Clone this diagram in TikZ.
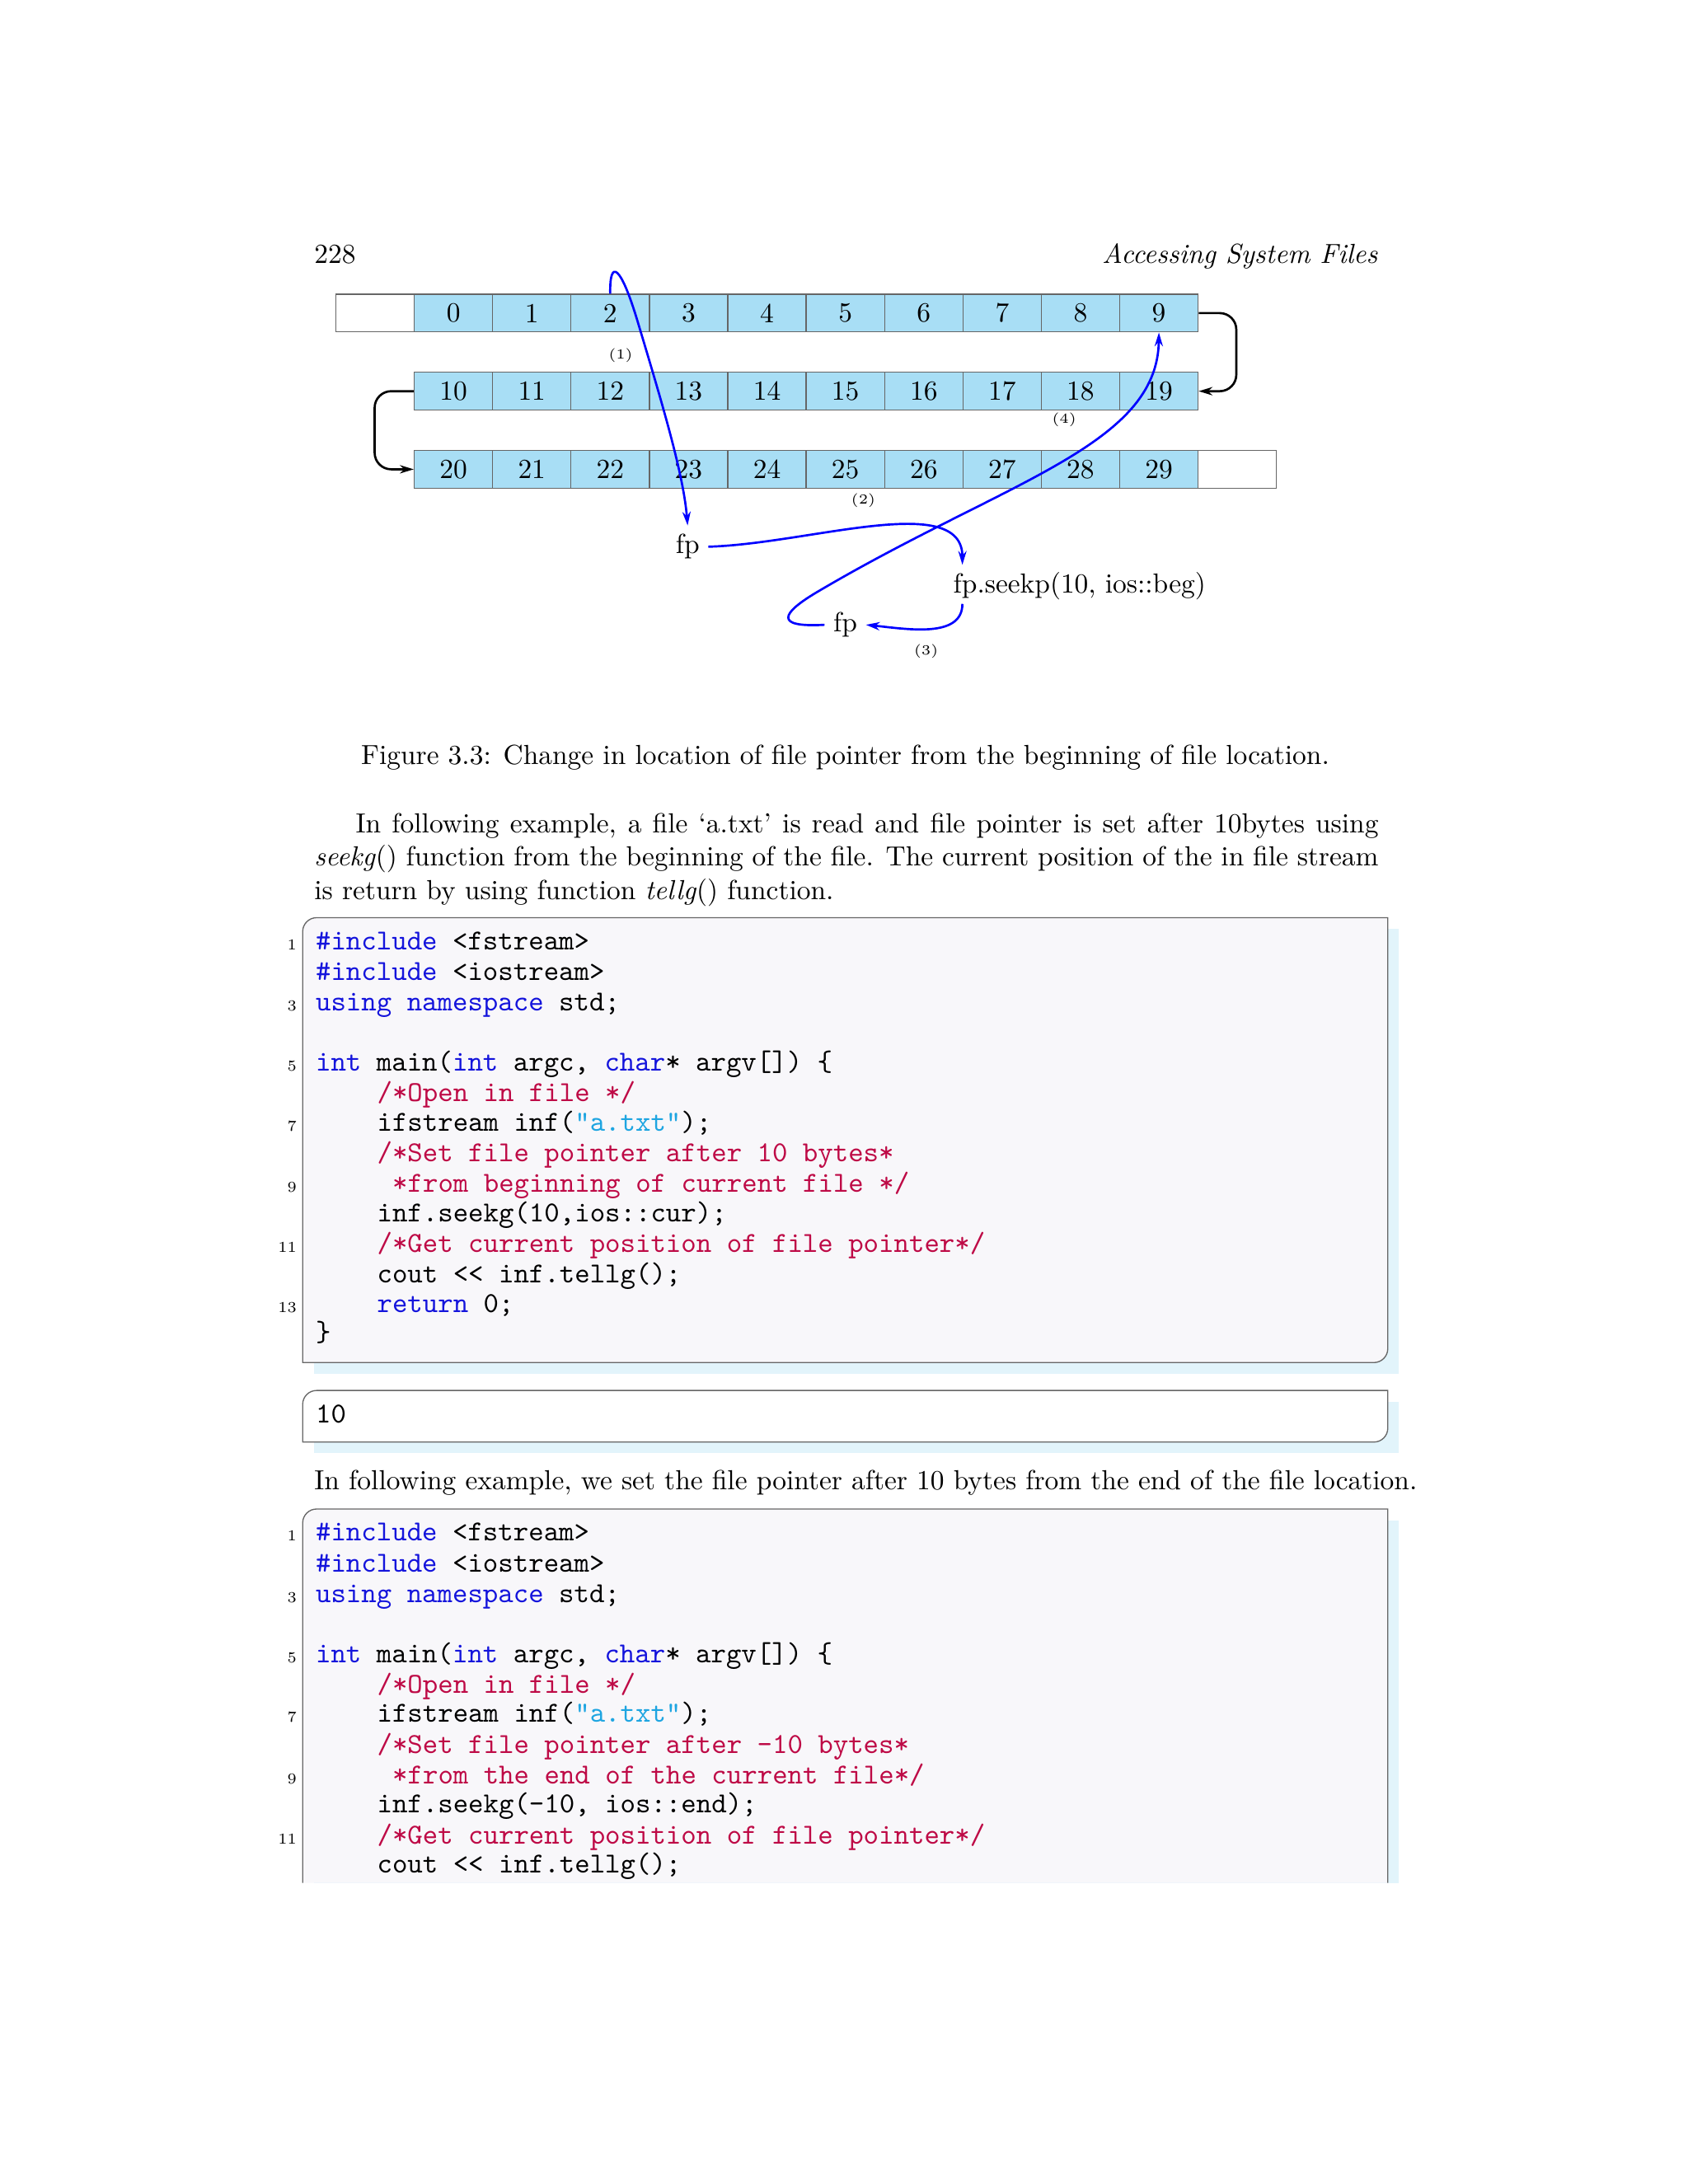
\documentclass[tikz,border=0pt]{standalone}
\usepackage{fontspec}
\definecolor{cellc}{RGB}{168,222,245}
\definecolor{kwc}{RGB}{20,20,220}
\definecolor{cmc}{RGB}{190,10,70}
\definecolor{stc}{RGB}{30,165,225}
\definecolor{bgc}{RGB}{248,247,250}
\definecolor{shc}{RGB}{226,244,251}
\newcommand{\kwd}[1]{\textcolor{kwc}{#1}}
\newcommand{\cmt}[1]{\textcolor{cmc}{#1}}
\newcommand{\strg}[1]{\textcolor{stc}{#1}}
\tikzset{
 cell/.style={draw=gray!80!black,fill=cellc,minimum width=56.2*0.5058pt,minimum height=27*0.5058pt,inner sep=0pt,font=\fontsize{10}{12}\selectfont},
 ecell/.style={cell,fill=white},
 lbl/.style={font=\fontsize{5}{6}\selectfont,inner sep=0pt},
 txt/.style={font=\fontsize{10}{12}\selectfont,inner sep=0pt},
 blue arrow/.style={draw=blue,thick,-{Stealth[length=5pt,width=3pt]}},
 black arrow/.style={draw=black,thick,rounded corners=6pt,-{Stealth[length=5pt,width=3pt]}},
 code/.style={anchor=base west,inner sep=0pt,font=\fontsize{10.5}{12}\ttfamily},
 lnum/.style={anchor=base east,inner sep=0pt,font=\fontsize{5.5}{6}\selectfont},
 cbox/.style={draw=gray!80!black,fill=bgc,rounded corners=0pt},
}
\usetikzlibrary{arrows.meta}
\newcommand{\cl}[4]{\node[code] (#1) at (#2,#3) {#4};}
\newcommand{\lnr}[3]{\node[lnum] (#1) at (213,#2) {#3};}
\begin{document}
\begin{tikzpicture}[x=0.5058pt,y=-0.5058pt]
\useasboundingbox[fill=white] (0,0) rectangle (1210,1566);
% header
\node[txt,anchor=base west] (pg) at (225,189) {228};
\node[txt,anchor=base east] (hd) at (988,189) {\itshape Accessing System Files};
% cells
\node[ecell] (e1) at (269,224.5) {};
\foreach \i in {0,...,9}{
 \node[cell] (c\i) at ({325.1+56.2*\i},224.5) {\i};
}
\foreach \i in {10,...,19}{
 \node[cell] (c\i) at ({325.1+56.2*(\i-10)},280.5) {\i};
}
\foreach \i in {20,...,29}{
 \node[cell] (c\i) at ({325.1+56.2*(\i-20)},336.5) {\i};
}
\node[ecell] (e2) at (887.1,336.5) {};
% labels
\node[lbl] (l1) at (445,255) {(1)};
\node[lbl] (l4) at (763,301) {(4)};
\node[lbl] (l2) at (619,359) {(2)};
\node[lbl] (l3) at (664,467) {(3)};
% text nodes
\node[txt] (fp1) at (493,392) {fp};
\node[txt] (seek) at (774,420) {fp.seekp(10, ios::beg)};
\node[txt] (fp2) at (606,448) {fp};
% black connectors
\draw[black arrow] (c9.east) -- ++(27,0) |- (c19.east);
\draw[black arrow] (c10.west) -- ++(-28,0) |- (c20.west);
% blue curves
\draw[blue arrow] (c2.north) .. controls (437,185) and (445,190) .. (457,230) .. controls (475,290) and (490,340) .. ([yshift=3pt]fp1.north);
\draw[blue arrow] ([xshift=3pt]fp1.east) .. controls (580,390) and (690,352) .. (690,405);
\draw[blue arrow] (690,433) .. controls (690,458) and (650,451) .. ([xshift=3pt]fp2.east);
\draw[blue arrow] ([xshift=-3pt]fp2.west) .. controls (555,450) and (560,440) .. (585,425) .. controls (720,345) and (830,320) .. (c9.south);
% caption
\node[txt,anchor=base] (cap) at (606,548) {Figure 3.3: Change in location of file pointer from the beginning of file location.};
% paragraph
\node[txt,anchor=north west,text width=763*0.5058pt,align=justify] (par) at (225,583) {\setlength{\parindent}{15pt}\indent In following example, a file `a.txt' is read and file pointer is set after 10bytes using \textit{seekg}() function from the beginning of the file. The current position of the in file stream is return by using function \textit{tellg}() function.};
% box 1
\fill[shc] (225,666) rectangle (1003,985);
\draw[cbox] (227,658) -- (995,658) -- (995,967) arc (0:90:10) -- (217,977) -- (217,668) arc (180:270:10) -- cycle;
\node[inner sep=0pt] (b1) at (606,817) {};
\lnr{n1}{681}{1}\cl{a1}{226}{681}{\kwd{\#include} <fstream>}
\cl{a2}{226}{703}{\kwd{\#include} <iostream>}
\lnr{n3}{725}{3}\cl{a3}{226}{725}{\kwd{using namespace} std;}
\lnr{n5}{768}{5}\cl{a5}{226}{768}{\kwd{int} main(\kwd{int} argc, \kwd{char}* argv[]) \{}
\cl{a6}{270}{790}{\cmt{/*Open in file */}}
\lnr{n7}{811}{7}\cl{a7}{270}{811}{ifstream inf(\strg{"a.txt"});}
\cl{a8}{270}{833}{\cmt{/*Set file pointer after 10 bytes*}}
\lnr{n9}{855}{9}\cl{a9}{281}{855}{\cmt{*from beginning of current file */}}
\cl{a10}{270}{876}{inf.seekg(10,ios::cur);}
\lnr{n11}{898}{11}\cl{a11}{270}{898}{\cmt{/*Get current position of file pointer*/}}
\cl{a12}{270}{920}{cout << inf.tellg();}
\lnr{n13}{941}{13}\cl{a13}{270}{941}{\kwd{return} 0;}
\cl{a14}{226}{962}{\}}
% box 2
\fill[shc] (225,1005) rectangle (1003,1042);
\draw[cbox,fill=white] (227,997) -- (995,997) -- (995,1024) arc (0:90:10) -- (217,1034) -- (217,1007) arc (180:270:10) -- cycle;
\cl{o1}{226}{1020}{10}
% text
\node[txt,anchor=base west] (t2) at (225,1068) {In following example, we set the file pointer after 10 bytes from the end of the file location.};
% box 3
\fill[shc] (225,1090) rectangle (1003,1350);
\draw[cbox] (217,1350) -- (217,1092) arc (180:270:10) -- (995,1082) -- (995,1350);
\lnr{m1}{1105}{1}\cl{d1}{226}{1105}{\kwd{\#include} <fstream>}
\cl{d2}{226}{1127}{\kwd{\#include} <iostream>}
\lnr{m3}{1149}{3}\cl{d3}{226}{1149}{\kwd{using namespace} std;}
\lnr{m5}{1192}{5}\cl{d5}{226}{1192}{\kwd{int} main(\kwd{int} argc, \kwd{char}* argv[]) \{}
\cl{d6}{270}{1214}{\cmt{/*Open in file */}}
\lnr{m7}{1235}{7}\cl{d7}{270}{1235}{ifstream inf(\strg{"a.txt"});}
\cl{d8}{270}{1257}{\cmt{/*Set file pointer after -10 bytes*}}
\lnr{m9}{1279}{9}\cl{d9}{281}{1279}{\cmt{*from the end of the current file*/}}
\cl{d10}{270}{1300}{inf.seekg(-10, ios::end);}
\lnr{m11}{1322}{11}\cl{d11}{270}{1322}{\cmt{/*Get current position of file pointer*/}}
\cl{d12}{270}{1343}{cout << inf.tellg();}
\end{tikzpicture}
\end{document}
